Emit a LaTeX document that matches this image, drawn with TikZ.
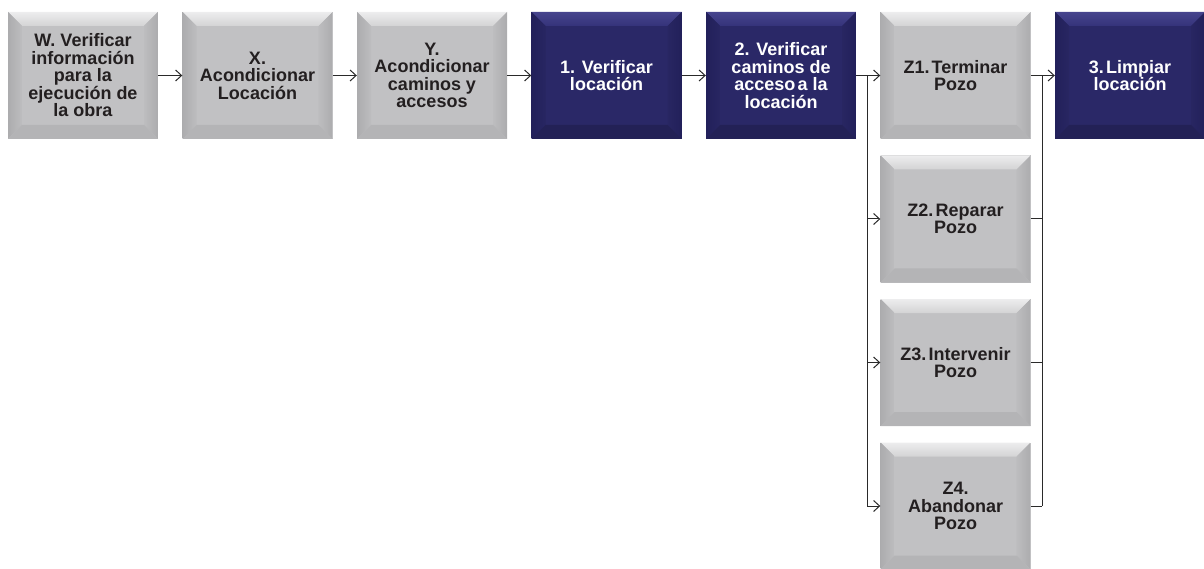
\documentclass[tikz,border=0pt]{standalone}
\usepackage{fontspec}
\setmainfont{Liberation Sans}
\usetikzlibrary{arrows.meta}
\definecolor{gmid}{HTML}{C1C1C3}
\definecolor{gtopa}{HTML}{EDEDEE}
\definecolor{gtopb}{HTML}{D3D3D4}
\definecolor{gsidea}{HTML}{ACACAE}
\definecolor{gsideb}{HTML}{BDBDBF}
\definecolor{gbot}{HTML}{B4B4B6}
\definecolor{nmid}{HTML}{2A2867}
\definecolor{ntopa}{HTML}{46448D}
\definecolor{ntopb}{HTML}{35337A}
\definecolor{nsidea}{HTML}{22205A}
\definecolor{nsideb}{HTML}{282662}
\definecolor{nbot}{HTML}{232156}
\definecolor{txtdark}{HTML}{231F20}
\definecolor{linecol}{HTML}{2A2A2A}
\tikzset{
  bevel/.style n args={6}{path picture={
    \def\bw{14}
    \coordinate (nw) at (path picture bounding box.north west);
    \coordinate (ne) at (path picture bounding box.north east);
    \coordinate (sw) at (path picture bounding box.south west);
    \coordinate (se) at (path picture bounding box.south east);
    \shade[top color=#1, bottom color=#2] (nw) -- (ne) -- ([shift={(-\bw,\bw)}]ne) -- ([shift={(\bw,\bw)}]nw) -- cycle;
    \shade[left color=#3, right color=#4] (nw) -- ([shift={(\bw,\bw)}]nw) -- ([shift={(\bw,-\bw)}]sw) -- (sw) -- cycle;
    \shade[left color=#4, right color=#3] (ne) -- ([shift={(-\bw,\bw)}]ne) -- ([shift={(-\bw,-\bw)}]se) -- (se) -- cycle;
    \fill[#5] (sw) -- ([shift={(\bw,-\bw)}]sw) -- ([shift={(-\bw,-\bw)}]se) -- (se) -- cycle;
  }},
  boxbase/.style={minimum width=150pt, minimum height=127pt, inner sep=0pt, align=center,
    font=\fontsize{18}{17.5}\selectfont\bfseries},
  gbox/.style={boxbase, fill=gmid, text=txtdark, bevel={gtopa}{gtopb}{gsidea}{gsideb}{gbot}{}},
  nbox/.style={boxbase, fill=nmid, text=white, bevel={ntopa}{ntopb}{nsidea}{nsideb}{nbot}{}},
  line/.style={draw=linecol, line width=1pt},
  conn/.style={line, -{Straight Barb[length=6pt,width=11pt]}}
}
\begin{document}
\begin{tikzpicture}[x=1pt,y=-1pt]
\useasboundingbox (0,0) rectangle (1204,569);
\node[gbox] (W) at (83,75.5) {W. Verificar\\información\\para la\\ejecución de\\la obra};
\node[gbox] (X) at (257.5,75.5) {X.\\Acondicionar\\Locación};
\node[gbox] (Y) at (432,75.5) {Y.\\Acondicionar\\caminos y\\accesos};
\node[nbox] (B1) at (606.5,75.5) {1. Verificar\\locación};
\node[nbox] (B2) at (781,75.5) {2. Verificar\\caminos de\\acceso\hspace{0.12em}a la\\locación};
\node[gbox] (Z1) at (955.5,75.5) {Z1.\hspace{0.12em}Terminar\\Pozo};
\node[gbox] (Z2) at (955.5,219) {Z2.\hspace{0.12em}Reparar\\Pozo};
\node[gbox] (Z3) at (955.5,362.5) {Z3.\hspace{0.12em}Intervenir\\Pozo};
\node[gbox] (Z4) at (955.5,506) {Z4.\\Abandonar\\Pozo};
\node[nbox] (B3) at (1130,75.5) {3.\hspace{0.12em}Limpiar\\locación};
\coordinate (bl) at (867,75.5);
\coordinate (br) at (1042,75.5);
\draw[conn] (W.east) -- (X.west);
\draw[conn] (X.east) -- (Y.west);
\draw[conn] (Y.east) -- (B1.west);
\draw[conn] (B1.east) -- (B2.west);
\draw[line] (B2.east) -- (bl);
\draw[line] (bl) -- (bl |- Z4.west);
\draw[line] (br) -- (br |- Z4.east);
\foreach \z in {Z1,Z2,Z3,Z4} {
  \draw[conn] (bl |- \z.west) -- (\z.west);
  \draw[line] (\z.east) -- (br |- \z.east);
}
\draw[conn] (br) -- (B3.west);
\end{tikzpicture}
\end{document}
